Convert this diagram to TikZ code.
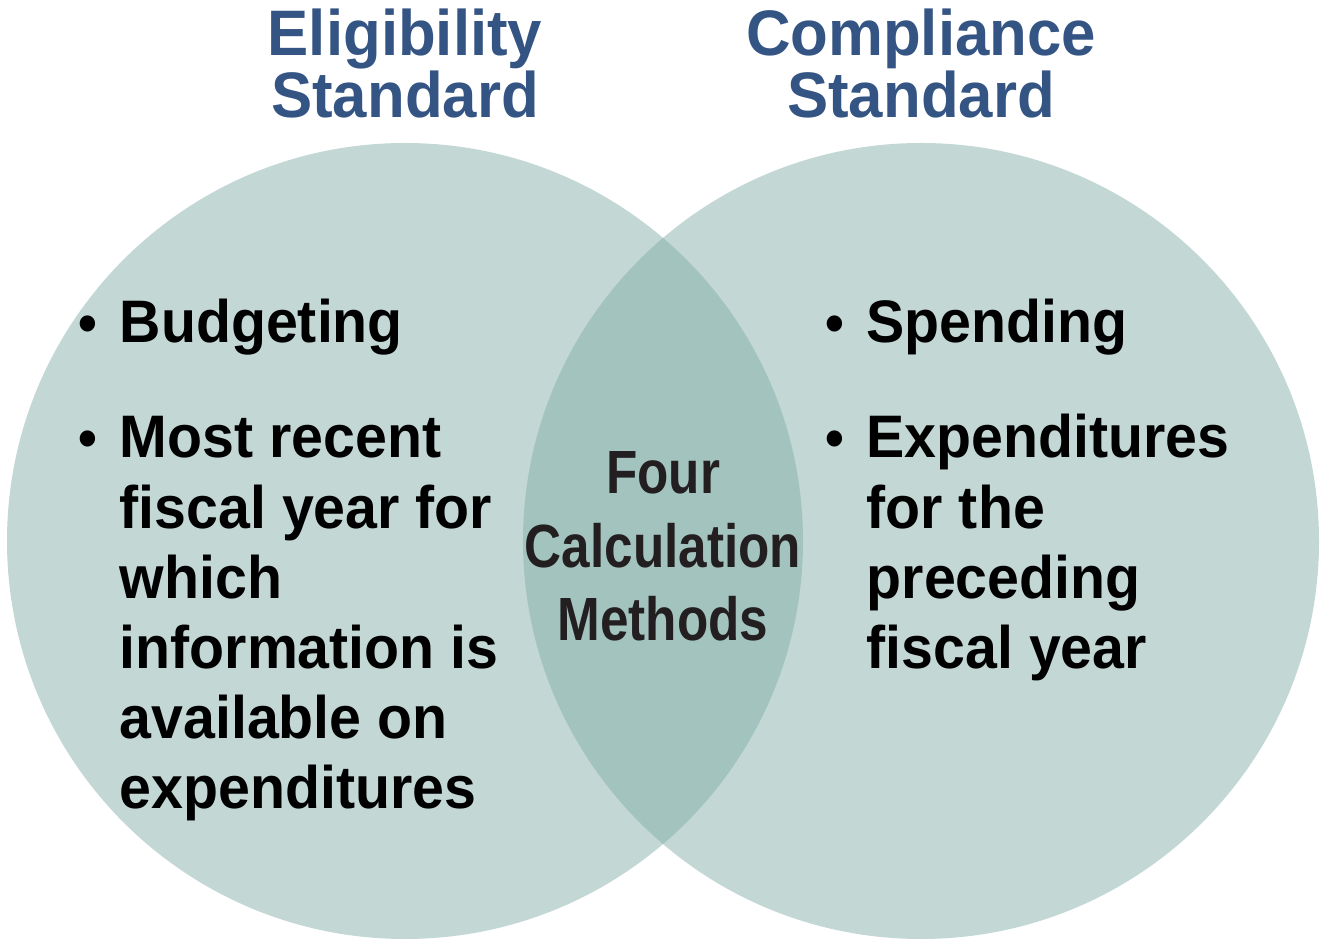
\documentclass[tikz,border=0pt]{standalone}
\usepackage{fontspec}
\setmainfont{Liberation Sans}
\newfontfamily\bodyfont{Liberation Sans}[FakeStretch=0.955]
\newfontfamily\titlefont{Liberation Sans}[FakeStretch=0.96]
\newfontfamily\lensfont{Liberation Sans}[FakeStretch=0.84]
\usepackage{tikz}
\usetikzlibrary{positioning}

\definecolor{circlefill}{HTML}{C3D7D5}
\definecolor{overlapfill}{HTML}{A3C3BF}
\definecolor{headblue}{HTML}{345583}
\definecolor{lensink}{HTML}{231F20}

\begin{document}
\begin{tikzpicture}[
    heading/.style={anchor=base, inner sep=0pt, text width=5cm, align=center, text=headblue,
      font=\titlefont\bfseries\fontsize{18.3}{17.4}\selectfont},
    item/.style={anchor=base west, inner sep=0pt, text width=4.3cm, align=flush left,
      font=\bodyfont\bfseries\fontsize{17.07}{19.92}\selectfont},
    dot/.style={anchor=base west, inner sep=0pt, font=\bodyfont\bfseries\fontsize{16}{19.92}\selectfont},
    middle/.style={anchor=base, inner sep=0pt, text width=3cm, align=center, text=lensink,
      font=\lensfont\bfseries\fontsize{17.36}{20.9}\selectfont}
  ]
  \useasboundingbox (0,0) rectangle (13.25,9.41);

  % Circles
  \coordinate (elig) at (4.05,4.00);
  \coordinate (comp) at (9.21,4.00);
  \fill[circlefill] (elig) circle (3.98);
  \fill[circlefill] (comp) circle (3.98);
  \begin{scope}
    \clip (elig) circle (3.98);
    \fill[overlapfill] (comp) circle (3.98);
  \end{scope}

  % Headings
  \node (eligtitle) [heading] at (4.05,8.85) {Eligibility\\Standard};
  \node (comptitle) [heading] at (9.21,8.85) {Compliance\\Standard};

  % Left items
  \node (ldot1) [dot] at (0.78,5.98) {•};
  \node (budget) [item] at (1.19,5.98) {Budgeting};
  \node (ldot2) [dot] at (0.78,4.83) {•};
  \node (recent) [item] at (1.19,4.83) {Most recent\\fiscal year for\\which\\information is\\available on\\expenditures};

  % Right items
  \node (rdot1) [dot] at (8.25,5.98) {•};
  \node (spend) [item] at (8.66,5.98) {Spending};
  \node (rdot2) [dot] at (8.25,4.83) {•};
  \node (preced) [item] at (8.66,4.83) {Expenditures\\for the\\preceding\\fiscal year};

  % Overlap
  \node (methods) [middle] at (6.63,4.47) {Four\\Calculation\\Methods};
\end{tikzpicture}
\end{document}
